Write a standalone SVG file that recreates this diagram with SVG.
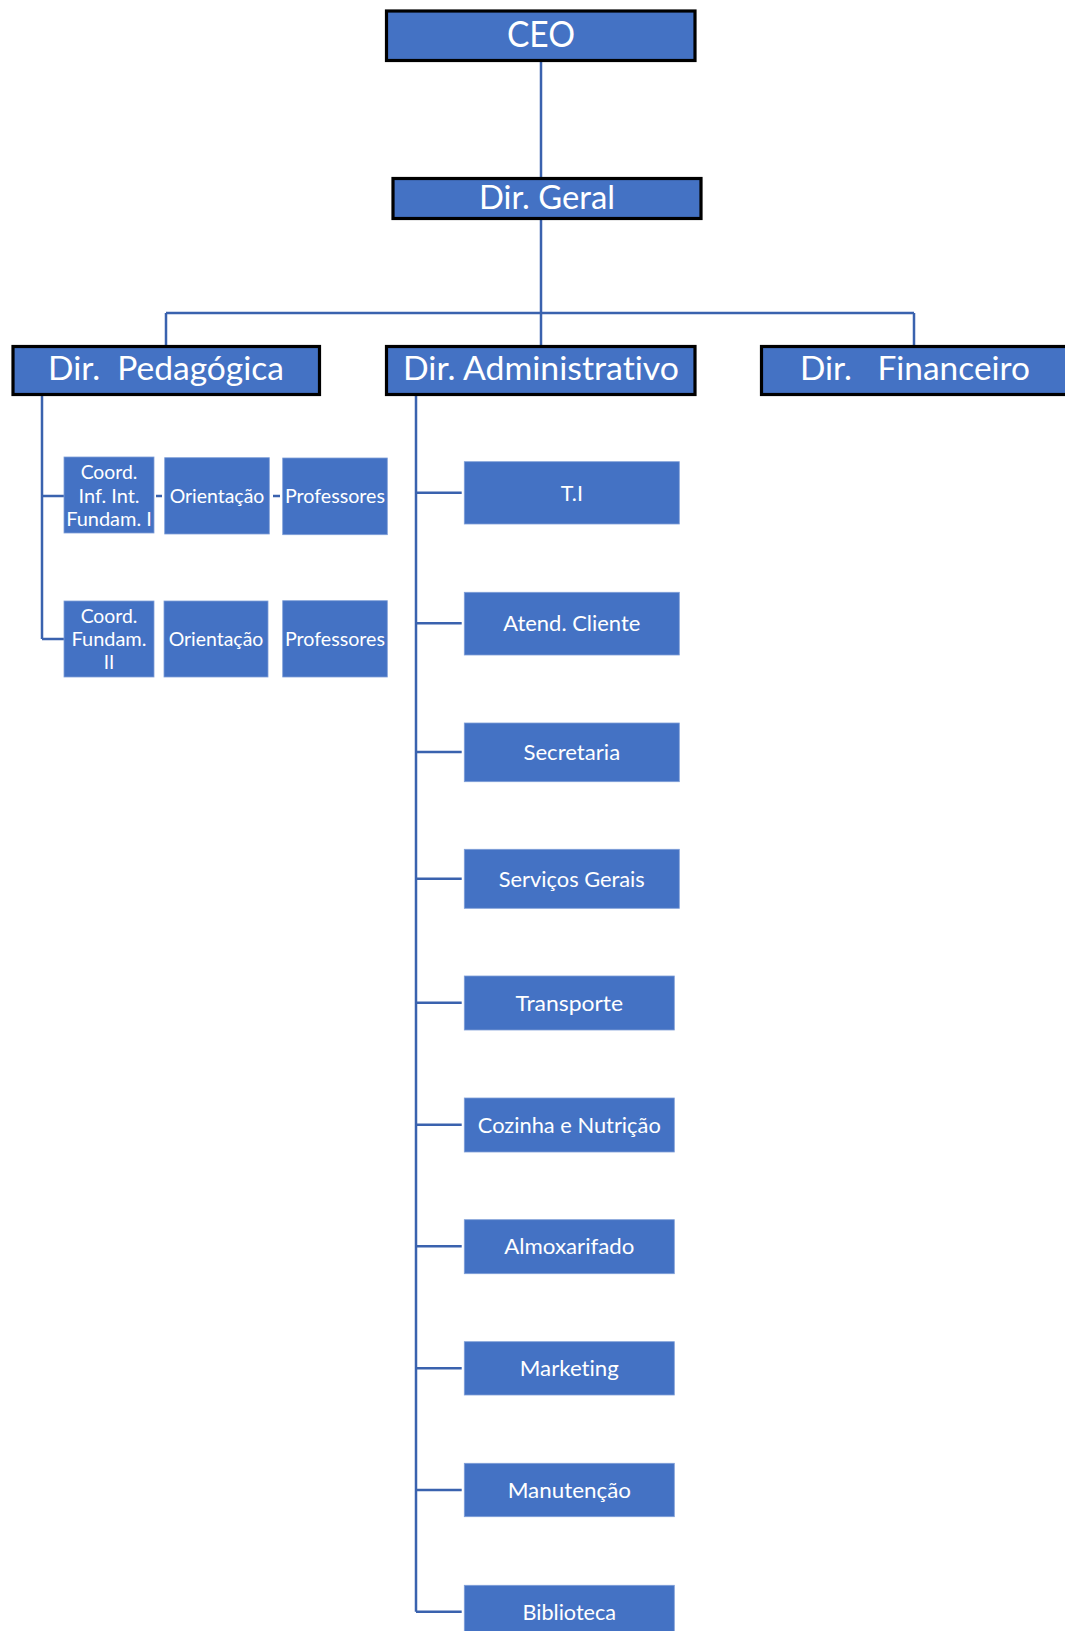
<svg xmlns="http://www.w3.org/2000/svg" width="1065" height="1631" viewBox="0 0 1065 1631">
<style>
.top{fill:#4472C4;stroke:#000;stroke-width:3.2}
.box{fill:#4472C4;stroke:#7f9fd8;stroke-width:0.8}
.t{fill:#fff;font-family:Lato,"Open Sans",sans-serif;text-anchor:middle;font-variant-ligatures:none;font-feature-settings:"liga" 0,"dlig" 0}
.big{font-size:32px}
.ceo{font-size:37px}
.mid{font-size:21.5px}
.sm{font-size:18.8px}
.ln{fill:none;stroke:#3A62AE;stroke-width:2.5}
</style>
<rect width="1065" height="1631" fill="#fff"/>
<g id="connectors">
<path class="ln" d="M541,61 V178 M541,220 V345 M166,313 H914 M166,313 V345 M914,313 V345"/>
<path class="ln" d="M42,395 V639 M42,496 H64 M42,639 H64 M156,496 H162 M273,496 H280"/>
<path class="ln" d="M416,395 V1611.7 M416,492.7 H461.7 M416,623.3 H461.7 M416,752 H461.7 M416,878.7 H461.7 M416,1002.7 H461.7 M416,1124.7 H461.7 M416,1246.3 H461.7 M416,1368.3 H461.7 M416,1490 H461.7 M416,1611.7 H461.7"/>
</g>
<g id="ceo"><rect class="top" x="386.5" y="11" width="308.5" height="49.5"/><text class="t ceo" x="541" y="46.5" textLength="68" lengthAdjust="spacingAndGlyphs">CEO</text></g>
<g id="dir-geral"><rect class="top" x="393" y="178.5" width="308" height="40"/><text class="t big" x="547" y="209" textLength="136" lengthAdjust="spacingAndGlyphs">Dir. Geral</text></g>
<g id="dir-pedagogica"><rect class="top" x="13" y="346.5" width="306.5" height="48"/><text class="t big" x="166" y="380" xml:space="preserve" textLength="236" lengthAdjust="spacingAndGlyphs">Dir.  Pedagógica</text></g>
<g id="dir-administrativo"><rect class="top" x="386.5" y="346.5" width="308.5" height="48"/><text class="t big" x="541" y="380" textLength="276" lengthAdjust="spacingAndGlyphs">Dir. Administrativo</text></g>
<g id="dir-financeiro"><rect class="top" x="761.5" y="346.5" width="320" height="48"/><text class="t big" x="915" y="380" xml:space="preserve" textLength="230" lengthAdjust="spacingAndGlyphs">Dir.   Financeiro</text></g>

<g id="coord-inf"><rect class="box" x="64" y="457" width="90" height="76"/>
<text class="t sm" x="109" y="479.3" textLength="56.7" lengthAdjust="spacingAndGlyphs">Coord.</text>
<text class="t sm" x="109" y="502.7" textLength="61" lengthAdjust="spacingAndGlyphs">Inf. Int.</text>
<text class="t sm" x="109" y="525.7" textLength="85.7" lengthAdjust="spacingAndGlyphs">Fundam. I</text></g>
<g id="orientacao-1"><rect class="box" x="164.7" y="457.7" width="104.6" height="76.3"/><text class="t sm" x="217" y="502.7" textLength="94.7" lengthAdjust="spacingAndGlyphs">Orientação</text></g>
<g id="professores-1"><rect class="box" x="282.7" y="458" width="104.6" height="76.7"/><text class="t sm" x="335" y="502.7" textLength="100" lengthAdjust="spacingAndGlyphs">Professores</text></g>

<g id="coord-fund2"><rect class="box" x="64" y="601" width="90" height="76"/>
<text class="t sm" x="109" y="622.7" textLength="56.7" lengthAdjust="spacingAndGlyphs">Coord.</text>
<text class="t sm" x="109" y="646" textLength="75" lengthAdjust="spacingAndGlyphs">Fundam.</text>
<text class="t sm" x="109" y="669.3">II</text></g>
<g id="orientacao-2"><rect class="box" x="164" y="601" width="104" height="76"/><text class="t sm" x="216" y="646" textLength="94.7" lengthAdjust="spacingAndGlyphs">Orientação</text></g>
<g id="professores-2"><rect class="box" x="282.7" y="600.7" width="104.6" height="76.3"/><text class="t sm" x="335" y="646" textLength="100" lengthAdjust="spacingAndGlyphs">Professores</text></g>

<g id="ti"><rect class="box" x="464.3" y="461.7" width="215" height="62.3"/><text class="t mid" x="571.8" y="500.5">T.I</text></g>
<g id="atend-cliente"><rect class="box" x="464.3" y="592.3" width="215" height="62.7"/><text class="t mid" x="571.8" y="631.2" textLength="137" lengthAdjust="spacingAndGlyphs">Atend. Cliente</text></g>
<g id="secretaria"><rect class="box" x="464.3" y="723" width="215" height="58.7"/><text class="t mid" x="571.8" y="760" textLength="96.7" lengthAdjust="spacingAndGlyphs">Secretaria</text></g>
<g id="servicos-gerais"><rect class="box" x="464.3" y="849.3" width="215" height="59"/><text class="t mid" x="571.8" y="886.5" textLength="146" lengthAdjust="spacingAndGlyphs">Serviços Gerais</text></g>
<g id="transporte"><rect class="box" x="464.3" y="976" width="210" height="54"/><text class="t mid" x="569.3" y="1010.7" textLength="107.7" lengthAdjust="spacingAndGlyphs">Transporte</text></g>
<g id="cozinha"><rect class="box" x="464.3" y="1098" width="210" height="54"/><text class="t mid" x="569.3" y="1132.7" textLength="183" lengthAdjust="spacingAndGlyphs">Cozinha e Nutrição</text></g>
<g id="almoxarifado"><rect class="box" x="464.3" y="1219.7" width="210" height="54"/><text class="t mid" x="569.3" y="1254.3" textLength="130" lengthAdjust="spacingAndGlyphs">Almoxarifado</text></g>
<g id="marketing"><rect class="box" x="464.3" y="1341.7" width="210" height="53.3"/><text class="t mid" x="569.3" y="1376.2" textLength="99" lengthAdjust="spacingAndGlyphs">Marketing</text></g>
<g id="manutencao"><rect class="box" x="464.3" y="1463.3" width="210" height="53.4"/><text class="t mid" x="569.3" y="1497.8" textLength="123.3" lengthAdjust="spacingAndGlyphs">Manutenção</text></g>
<g id="biblioteca"><rect class="box" x="464.3" y="1585.3" width="210" height="54"/><text class="t mid" x="569.3" y="1619.5" textLength="93.7" lengthAdjust="spacingAndGlyphs">Biblioteca</text></g>
</svg>
